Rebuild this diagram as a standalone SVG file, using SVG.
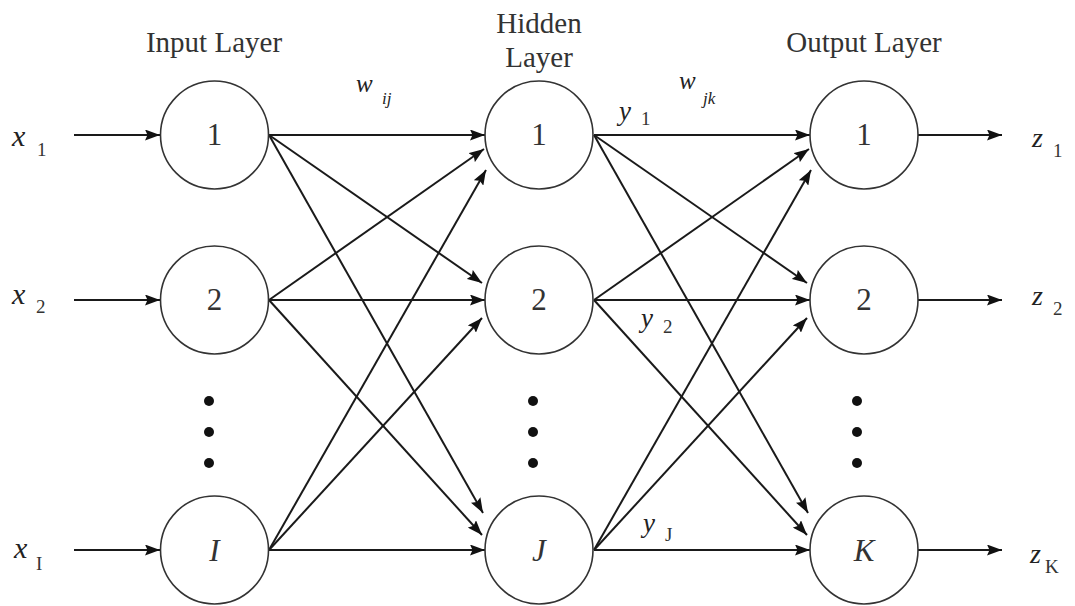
<svg xmlns="http://www.w3.org/2000/svg" width="1075" height="606" viewBox="0 0 1075 606">
<style>
.node{fill:#fff;stroke:#333;stroke-width:1.6}
.lbl{font-family:"Liberation Serif",serif;fill:#333;text-anchor:middle}
.title{font-size:29px}
.num{font-size:31px}
.it{font-family:"Liberation Serif",serif;font-style:italic;fill:#222}
.sub{font-family:"Liberation Serif",serif;fill:#333;font-size:19px}
.conn line{stroke:#1a1a1a;stroke-width:2;marker-end:url(#ah)}
.dot{fill:#111}
</style>
<defs>
<marker id="ah" viewBox="0 0 15 11" refX="15" refY="5.5" markerWidth="15" markerHeight="11" markerUnits="userSpaceOnUse" orient="auto">
<path d="M0,0 L15,5.5 L0,11 L2.5,5.5 z" fill="#111"/>
</marker>
</defs>
<rect width="1075" height="606" fill="#fff"/>

<g id="titles">
<text class="lbl title" x="214" y="52">Input Layer</text>
<text class="lbl title" x="539" y="33">Hidden</text>
<text class="lbl title" x="539" y="67">Layer</text>
<text class="lbl title" x="864" y="52">Output Layer</text>
</g>

<g id="connectors" class="conn">
<line x1="74" y1="135" x2="160" y2="135"/>
<line x1="74" y1="300" x2="160" y2="300"/>
<line x1="74" y1="550" x2="160" y2="550"/>
<line x1="269" y1="135" x2="485" y2="135"/>
<line x1="269" y1="135" x2="482" y2="283"/>
<line x1="269" y1="135" x2="483" y2="513"/>
<line x1="269" y1="300" x2="484" y2="149"/>
<line x1="269" y1="300" x2="485" y2="300"/>
<line x1="269" y1="300" x2="482" y2="535"/>
<line x1="269" y1="550" x2="486" y2="170"/>
<line x1="269" y1="550" x2="482" y2="318"/>
<line x1="269" y1="550" x2="485" y2="550"/>
<line x1="594" y1="135" x2="810" y2="135"/>
<line x1="594" y1="135" x2="807" y2="283"/>
<line x1="594" y1="135" x2="808" y2="513"/>
<line x1="594" y1="300" x2="809" y2="149"/>
<line x1="594" y1="300" x2="810" y2="300"/>
<line x1="594" y1="300" x2="807" y2="535"/>
<line x1="594" y1="550" x2="811" y2="170"/>
<line x1="594" y1="550" x2="807" y2="318"/>
<line x1="594" y1="550" x2="810" y2="550"/>
<line x1="918" y1="135" x2="1002" y2="135"/>
<line x1="918" y1="300" x2="1002" y2="300"/>
<line x1="918" y1="550" x2="1002" y2="550"/>
</g>

<g id="in1"><circle class="node" cx="214.5" cy="135" r="54"/><text class="lbl num" x="214.5" y="145">1</text></g>
<g id="in2"><circle class="node" cx="214.5" cy="300" r="54"/><text class="lbl num" x="214.5" y="310">2</text></g>
<g id="inI"><circle class="node" cx="214.5" cy="550" r="54"/><text class="lbl num" x="214.5" y="561" font-style="italic">I</text></g>
<g id="h1"><circle class="node" cx="539" cy="135" r="54"/><text class="lbl num" x="539" y="145">1</text></g>
<g id="h2"><circle class="node" cx="539" cy="300" r="54"/><text class="lbl num" x="539" y="310">2</text></g>
<g id="hJ"><circle class="node" cx="539" cy="550" r="54"/><text class="lbl num" x="539" y="561" font-style="italic">J</text></g>
<g id="o1"><circle class="node" cx="864" cy="135" r="54"/><text class="lbl num" x="864" y="145">1</text></g>
<g id="o2"><circle class="node" cx="864" cy="300" r="54"/><text class="lbl num" x="864" y="310">2</text></g>
<g id="oK"><circle class="node" cx="864" cy="550" r="54"/><text class="lbl num" x="864" y="561" font-style="italic">K</text></g>

<g id="dots">
<circle class="dot" cx="209" cy="401" r="5"/><circle class="dot" cx="209" cy="432" r="5"/><circle class="dot" cx="209" cy="463" r="5"/>
<circle class="dot" cx="533" cy="401" r="5"/><circle class="dot" cx="533" cy="432" r="5"/><circle class="dot" cx="533" cy="463" r="5"/>
<circle class="dot" cx="857" cy="401" r="5"/><circle class="dot" cx="857" cy="432" r="5"/><circle class="dot" cx="857" cy="463" r="5"/>
</g>

<g id="labels">
<text class="it" x="12" y="146" font-size="30">x</text><text class="sub" x="37" y="156">1</text>
<text class="it" x="12" y="304" font-size="30">x</text><text class="sub" x="36" y="313">2</text>
<text class="it" x="14" y="558" font-size="30">x</text><text class="sub" x="36" y="570">I</text>
<text class="it" x="356" y="92" font-size="25">w</text><text class="it" x="382" y="104" font-size="17">ij</text>
<text class="it" x="679" y="89" font-size="25">w</text><text class="it" x="703" y="104" font-size="17">jk</text>
<text class="it" x="619" y="120" font-size="27">y</text><text class="sub" x="641" y="125">1</text>
<text class="it" x="641" y="327" font-size="27">y</text><text class="sub" x="663" y="333">2</text>
<text class="it" x="643" y="532" font-size="27">y</text><text class="sub" x="665" y="541">J</text>
<text class="it" x="1032" y="147" font-size="28">z</text><text class="sub" x="1053" y="157">1</text>
<text class="it" x="1032" y="305" font-size="28">z</text><text class="sub" x="1053" y="315">2</text>
<text class="it" x="1030" y="563" font-size="28">z</text><text class="sub" x="1045" y="573">K</text>
</g>
</svg>
